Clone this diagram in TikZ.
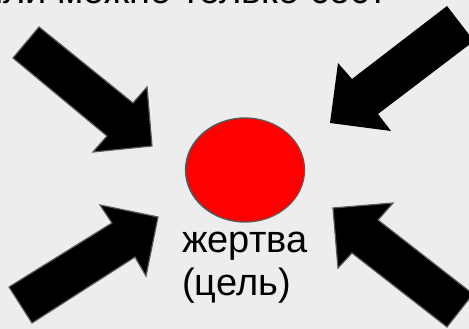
\documentclass[tikz,border=0pt]{standalone}
\usepackage{fontspec}
\setmainfont{Liberation Sans}
\usetikzlibrary{shapes.geometric}
\begin{document}
\begin{tikzpicture}[x=1pt,y=-1pt,
  bigarrow/.style={fill=black,draw=black!65,line width=1.2pt,line join=miter},
  bigarrowplain/.style={fill=black,draw=none},
  target/.style={fill=red,draw=black!65,line width=1.3pt},
  lbl/.style={font=\fontsize{38}{43}\selectfont,align=left,inner sep=0pt,anchor=north west}]
\useasboundingbox (0,0) rectangle (469,329);
\clip (0,0) rectangle (469,329);
\fill[black!7] (0,0) rectangle (469,329);
% cut-off title line: only its lowest pixels show
\begin{scope}
\clip (0,0) rectangle (469,4);
\node[font=\fontsize{38}{43}\selectfont,anchor=base west,inner sep=0pt] (title) at (-18,4) {или можно только сост};
\end{scope}
% target
\node[target,ellipse,minimum width=119pt,minimum height=104pt,inner sep=0pt] (victim) at (245,170) {};
\node[lbl] (label) at (182,232) {жертва\\(цель)};
% arrow top-left
\draw[bigarrow] (39,27) -- (133,103) -- (147,87) -- (152,146) -- (93,152) -- (107,136) -- (13,58) -- cycle;
% arrow top-right
\draw[bigarrowplain] (447,6) -- (352,79) -- (338,63) -- (330,123) -- (391,131) -- (378,114) -- (474,41) -- cycle;
% arrow bottom-left
\draw[bigarrow] (9,287) -- (112,223) -- (100,205) -- (158,217) -- (146,276) -- (135,257) -- (32,323) -- cycle;
% arrow bottom-right
\draw[bigarrow] (473,294) -- (378,220) -- (393,203) -- (333,208) -- (338,268) -- (352,253) -- (447,327) -- cycle;
\end{tikzpicture}
\end{document}
